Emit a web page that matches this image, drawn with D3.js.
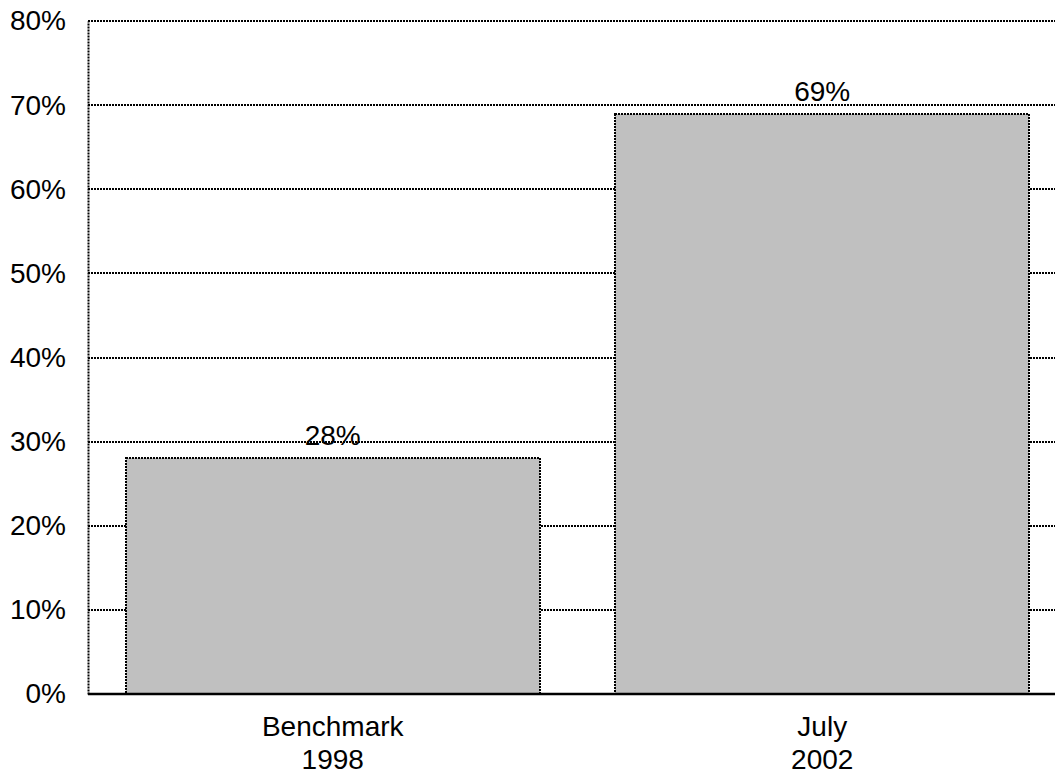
<!DOCTYPE html>
<html>
<head>
<meta charset="utf-8">
<script src="https://cdn.jsdelivr.net/npm/d3@7"></script>
<style>
  html, body { margin: 0; padding: 0; background: #fff; }
  svg { display: block; }
  text { font-family: Arial, "Liberation Sans", sans-serif; fill: #000; }
</style>
</head>
<body>
<svg id="chart" width="1055" height="775"></svg>
<script>
// Chart data
const categories = ["Benchmark\n1998", "July\n2002"];
const values = [0.28, 0.69];
const yTicks = [0, 0.1, 0.2, 0.3, 0.4, 0.5, 0.6, 0.7, 0.8];

const svg = d3.select("#chart");
const W = 1055, H = 775;
const margin = { left: 88, top: 21, bottom: 694, right: 1067 };
const fontSize = 28;

const x = d3.scaleBand()
  .domain(categories)
  .range([margin.left, margin.right])
  .paddingInner(0.155)
  .paddingOuter(0.0775);

const y = d3.scaleLinear()
  .domain([0, 0.8])
  .range([margin.bottom, margin.top]);

const fmt = d3.format(".0%");
const dotted = "2,1";

// Horizontal gridlines
svg.append("g")
  .selectAll("line")
  .data(yTicks.filter(d => d > 0))
  .join("line")
  .attr("x1", margin.left)
  .attr("x2", W)
  .attr("y1", d => Math.round(y(d)))
  .attr("y2", d => Math.round(y(d)))
  .attr("stroke", "#000")
  .attr("stroke-width", 2)
  .attr("stroke-dasharray", dotted);

// Y axis (dotted line with labels)
const yAxis = d3.axisLeft(y).tickValues(yTicks).tickFormat(fmt).tickSize(0).tickPadding(22);
const gy = svg.append("g")
  .attr("transform", `translate(${margin.left},0)`)
  .call(yAxis);
gy.select(".domain")
  .attr("stroke", "#000")
  .attr("stroke-width", 2)
  .attr("stroke-dasharray", dotted);
gy.selectAll("text")
  .attr("font-size", fontSize)
  .style("font-family", "Arial, 'Liberation Sans', sans-serif");

// Bars
svg.append("g")
  .selectAll("rect")
  .data(values)
  .join("rect")
  .attr("x", (d, i) => Math.round(x(categories[i])))
  .attr("y", d => Math.round(y(d)))
  .attr("width", Math.round(x.bandwidth()))
  .attr("height", d => Math.round(y(0)) - Math.round(y(d)))
  .attr("fill", "#c0c0c0")
  .attr("stroke", "#000")
  .attr("stroke-width", 2)
  .attr("stroke-dasharray", dotted);

// Value labels
svg.append("g")
  .selectAll("text")
  .data(values)
  .join("text")
  .attr("x", (d, i) => x(categories[i]) + x.bandwidth() / 2)
  .attr("y", d => y(d) - 13)
  .attr("text-anchor", "middle")
  .attr("font-size", fontSize)
  .text(d => fmt(d));

// X axis baseline
svg.append("line")
  .attr("x1", margin.left)
  .attr("x2", W)
  .attr("y1", y(0))
  .attr("y2", y(0))
  .attr("stroke", "#000")
  .attr("stroke-width", 2.5);

// Category labels (two lines each)
const cat = svg.append("g")
  .selectAll("text")
  .data(categories)
  .join("text")
  .attr("x", d => x(d) + x.bandwidth() / 2)
  .attr("y", 736)
  .attr("text-anchor", "middle")
  .attr("font-size", fontSize);
cat.selectAll("tspan")
  .data(d => d.split("\n"))
  .join("tspan")
  .attr("x", function () { return d3.select(this.parentNode).attr("x"); })
  .attr("dy", (d, i) => i === 0 ? 0 : 33)
  .text(d => d);
</script>
</body>
</html>
